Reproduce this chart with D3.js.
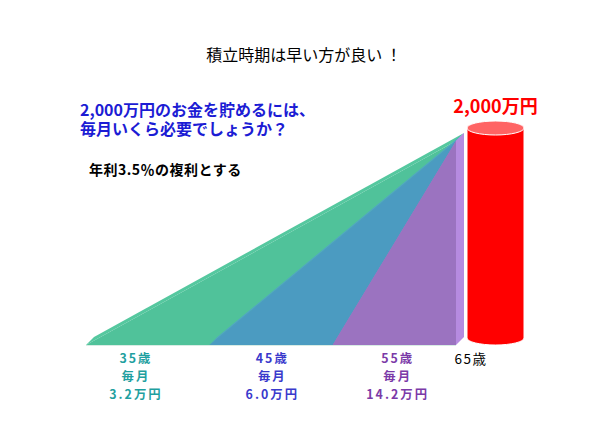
<!DOCTYPE html>
<html>
<head>
<meta charset="utf-8">
<script src="https://cdn.jsdelivr.net/npm/d3@7"></script>
<style>
  body { margin: 0; background: #fff; }
  text { font-family: "Noto Sans CJK JP", sans-serif; }
</style>
</head>
<body>
<div id="chart"></div>
<script>
// values
var startAges = [35, 45, 55],
  endAge = 65,
  target = 2000,            // 万円
  monthly = ["3.2", "6.0", "14.2"];   // 万円 / month

var svg_dx = 600,
  svg_dy = 427;

var svg = d3.select("#chart")
  .append("svg")
  .attr("width", svg_dx)
  .attr("height", svg_dy);

// age -> px, amount -> px (front face of the 3d area)
var x = d3.scaleLinear().domain([35, endAge]).range([86, 456]),
  y = d3.scaleLinear().domain([0, target]).range([345, 141]);
// the cylinder sits a bit further back
var yc = d3.scaleLinear().domain([0, target]).range([338, 128]);

var depth = 8;
var fills = ["#50c29a", "#4b9bc1", "#9b73c0"],
  tops = ["#55c89f", "#52a3c8", "#a47cc8"],
  labelColors = ["#1fa0a0", "#3a3acc", "#7b3aa8"];

// areas, back to front
startAges.forEach(function(a, i) {
  var pts = [
    [x(a), y(0)],
    [x(a) + depth, y(0) - depth],
    [x(endAge) + depth, y(target) - depth],
    [x(endAge), y(target)]
  ];
  // top slope face
  svg.append("path")
    .attr("d", d3.line()(pts) + "Z")
    .attr("fill", tops[i]);
  // front face
  svg.append("path")
    .attr("d", d3.line()([[x(a), y(0)], [x(endAge), y(target)], [x(endAge), y(0)]]) + "Z")
    .attr("fill", fills[i]);
});

// side face of the front area
svg.append("path")
  .attr("d", d3.line()([
    [x(endAge), y(target)],
    [x(endAge) + depth, y(target) - depth],
    [x(endAge) + depth, y(0) - depth],
    [x(endAge), y(0)]
  ]) + "Z")
  .attr("fill", "#b68be0");

// floor edge
svg.append("line")
  .attr("x1", x(35)).attr("x2", x(endAge))
  .attr("y1", y(0) + 0.5).attr("y2", y(0) + 0.5)
  .attr("stroke", "#d8ece4").attr("stroke-width", 1);

// cylinder for the target amount
var cx0 = x(endAge) + 11,
  cx1 = x(endAge) + 68,
  rx = (cx1 - cx0) / 2,
  ry = 7,
  cTop = yc(target),
  cBot = yc(0);

svg.append("path")
  .attr("d", "M" + cx0 + "," + cTop +
    "L" + cx0 + "," + cBot +
    "A" + rx + "," + ry + " 0 0 0 " + cx1 + "," + cBot +
    "L" + cx1 + "," + cTop + "Z")
  .attr("fill", "#ff0000")
  .attr("stroke", "#fff")
  .attr("stroke-width", 1);

svg.append("ellipse")
  .attr("cx", (cx0 + cx1) / 2)
  .attr("cy", cTop)
  .attr("rx", rx)
  .attr("ry", ry)
  .attr("fill", "#ff6464")
  .attr("stroke", "#fff")
  .attr("stroke-width", 1);

svg.append("text")
  .attr("x", (cx0 + cx1) / 2)
  .attr("y", 113)
  .attr("text-anchor", "middle")
  .attr("font-size", "18px")
  .attr("font-weight", "bold")
  .attr("fill", "#ff0000")
  .text(d3.format(",")(target) + "万円");

svg.append("text")
  .attr("x", x(endAge) + 15)
  .attr("y", 364)
  .attr("text-anchor", "middle")
  .attr("font-size", "13.5px")
  .attr("letter-spacing", "1.5px")
  .attr("fill", "#000")
  .text(endAge + "歳");

// labels under each start age
var labelOffsets = [50, 63, 65];
startAges.forEach(function(a, i) {
  var t = svg.append("text")
    .attr("x", x(a) + labelOffsets[i])
    .attr("text-anchor", "middle")
    .attr("font-size", "12.4px")
    .attr("letter-spacing", "2px")
    .attr("font-weight", "bold")
    .attr("fill", labelColors[i]);
  [a + "歳", "毎月", monthly[i] + "万円"].forEach(function(s, j) {
    t.append("tspan")
      .attr("x", x(a) + labelOffsets[i])
      .attr("y", 363 + j * 18)
      .text(s);
  });
});

// titles
svg.append("text")
  .attr("x", 304)
  .attr("y", 61)
  .attr("text-anchor", "middle")
  .attr("font-size", "16px")
  .attr("fill", "#000")
  .text("積立時期は早い方が良い ！");

var q = svg.append("text")
  .attr("font-size", "16px")
  .attr("font-weight", "bold")
  .attr("fill", "#1c1cd4");
q.append("tspan").attr("x", 80).attr("y", 116).text("2,000万円のお金を貯めるには、");
q.append("tspan").attr("x", 80).attr("y", 135).text("毎月いくら必要でしょうか？");

svg.append("text")
  .attr("x", 89)
  .attr("y", 175)
  .attr("font-size", "14px")
  .attr("letter-spacing", "0.5px")
  .attr("font-weight", "bold")
  .attr("fill", "#000")
  .text("年利3.5％の複利とする");
</script>
</body>
</html>
